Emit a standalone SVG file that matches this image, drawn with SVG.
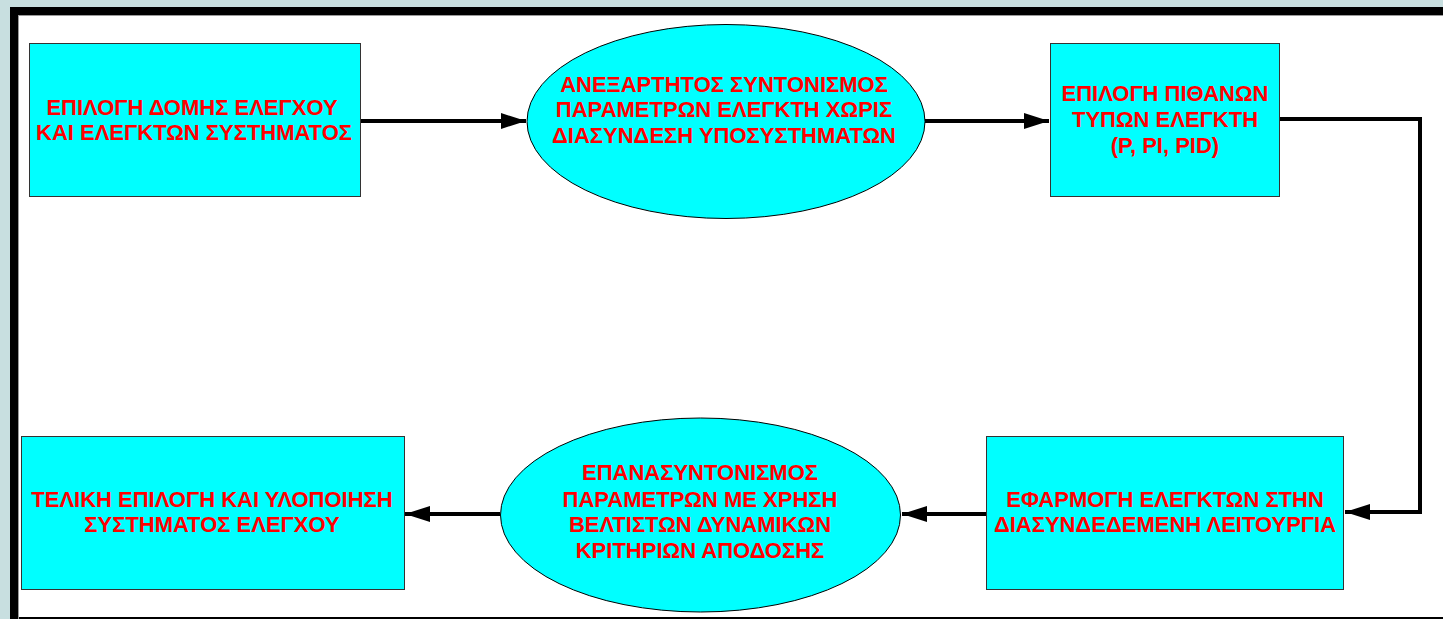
<svg xmlns="http://www.w3.org/2000/svg" width="1443" height="619" viewBox="0 0 1443 619">
  <style>
    .box { fill: #00ffff; stroke: #333333; stroke-width: 1; }
    .oval { fill: #00ffff; stroke: #000000; stroke-width: 1; }
    .lbl { font-family: "Liberation Sans", Arial, sans-serif; font-weight: bold; font-size: 22px; fill: #ff0000; text-anchor: middle; }
    .wire { fill: none; stroke: #000000; stroke-width: 4; }
  </style>
  <defs>
    <marker id="head" markerUnits="userSpaceOnUse" markerWidth="26" markerHeight="18" refX="25" refY="8" orient="auto">
      <path d="M0,0 L25,8 L0,16 Z" fill="#000000"/>
    </marker>
  </defs>

  <!-- page background and frame -->
  <rect x="0" y="0" width="1443" height="619" fill="#c8dfe0"/>
  <rect x="14" y="11" width="1440" height="610" fill="#ffffff" stroke="#000000" stroke-width="8"/>
  <rect x="18.5" y="15.5" width="1440" height="620" fill="none" stroke="#9a9a9a" stroke-width="1"/>

  <g id="connectors">
    <path class="wire" d="M360,121 H526" marker-end="url(#head)"/>
    <path class="wire" d="M925,121 H1049" marker-end="url(#head)"/>
    <path class="wire" d="M1280,119 H1420 V512 H1345" marker-end="url(#head)"/>
    <path class="wire" d="M987,514 H902" marker-end="url(#head)"/>
    <path class="wire" d="M500,514 H405" marker-end="url(#head)"/>
  </g>

  <g id="structure-selection">
    <rect class="box" x="29.5" y="43.5" width="331" height="153"/>
    <text class="lbl" x="192" y="115">ΕΠΙΛΟΓΗ ΔΟΜΗΣ ΕΛΕΓΧΟΥ</text>
    <text class="lbl" x="194" y="140">ΚΑΙ ΕΛΕΓΚΤΩΝ ΣΥΣΤΗΜΑΤΟΣ</text>
  </g>

  <g id="independent-tuning">
    <ellipse class="oval" cx="726" cy="121.5" rx="199" ry="97"/>
    <text class="lbl" x="724" y="92">ΑΝΕΞΑΡΤΗΤΟΣ ΣΥΝΤΟΝΙΣΜΟΣ</text>
    <text class="lbl" x="724" y="117">ΠΑΡΑΜΕΤΡΩΝ ΕΛΕΓΚΤΗ ΧΩΡΙΣ</text>
    <text class="lbl" x="724" y="143">ΔΙΑΣΥΝΔΕΣΗ ΥΠΟΣΥΣΤΗΜΑΤΩΝ</text>
  </g>

  <g id="controller-types">
    <rect class="box" x="1050.5" y="43.5" width="229" height="153"/>
    <text class="lbl" x="1165" y="101">ΕΠΙΛΟΓΗ ΠΙΘΑΝΩΝ</text>
    <text class="lbl" x="1165" y="127">ΤΥΠΩΝ ΕΛΕΓΚΤΗ</text>
    <text class="lbl" x="1165" y="153">(P, PI, PID)</text>
  </g>

  <g id="coupled-operation">
    <rect class="box" x="986.5" y="436.5" width="357" height="153"/>
    <text class="lbl" x="1165" y="507">ΕΦΑΡΜΟΓΗ ΕΛΕΓΚΤΩΝ ΣΤΗΝ</text>
    <text class="lbl" x="1165" y="532">ΔΙΑΣΥΝΔΕΔΕΜΕΝΗ ΛΕΙΤΟΥΡΓΙΑ</text>
  </g>

  <g id="retuning">
    <ellipse class="oval" cx="700.5" cy="515" rx="200" ry="97"/>
    <text class="lbl" x="700" y="480">ΕΠΑΝΑΣΥΝΤΟΝΙΣΜΟΣ</text>
    <text class="lbl" x="700" y="507">ΠΑΡΑΜΕΤΡΩΝ ΜΕ ΧΡΗΣΗ</text>
    <text class="lbl" x="700" y="532">ΒΕΛΤΙΣΤΩΝ ΔΥΝΑΜΙΚΩΝ</text>
    <text class="lbl" x="700" y="558">ΚΡΙΤΗΡΙΩΝ ΑΠΟΔΟΣΗΣ</text>
  </g>

  <g id="final-selection">
    <rect class="box" x="21.5" y="436.5" width="383" height="153"/>
    <text class="lbl" x="212" y="507">ΤΕΛΙΚΗ ΕΠΙΛΟΓΗ ΚΑΙ ΥΛΟΠΟΙΗΣΗ</text>
    <text class="lbl" x="212" y="532">ΣΥΣΤΗΜΑΤΟΣ ΕΛΕΓΧΟΥ</text>
  </g>
</svg>
